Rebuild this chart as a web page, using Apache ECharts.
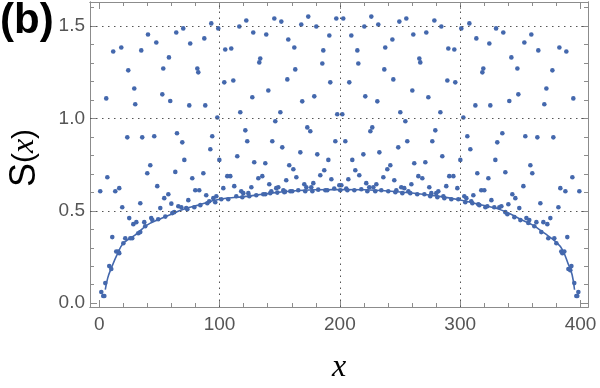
<!DOCTYPE html>
<html lang="en">
<head>
    <meta charset="utf-8">
    <title>S(x)</title>
    <script src="https://cdn.jsdelivr.net/npm/echarts@6/dist/echarts.min.js"></script>
    <style>
        html, body { margin: 0; padding: 0; background: #fff; }
        #main { width: 600px; height: 388px; }
    </style>
</head>
<body>
<div id="main"></div>
<script type="text/javascript">
    // points, [x, S]
    var dotsLeft = [
        [69.8,1.488],[64.0,1.466],[40.5,1.455],[75.6,1.406],[47.4,1.412],[18.3,1.385],[11.6,1.363],[34.9,1.369],
        [57.9,1.331],[53.2,1.271],[24.1,1.261],[29.1,1.163],[52.4,1.131],[5.8,1.109],[59.0,1.095],[29.9,1.077],
        [74.8,1.071],[64.6,0.920],[23.3,0.898],[35.7,0.898],[45.7,0.904],[69.0,0.871],[70.7,0.776],
        [93.1,1.515],[98.9,1.488],[87.3,1.434],[81.5,1.271],[82.3,1.250],[88.1,1.071],[98.1,1.006],[93.9,0.904],
        [92.3,0.834],[99.8,0.776],
        [42.4,0.747],[6.7,0.682],[63.2,0.711],[39.9,0.704],[0.8,0.606],[13.3,0.606],[16.6,0.623],[48.2,0.634],
        [77.3,0.677],[19.1,0.520],[34.1,0.541],[54.0,0.569],[57.4,0.590],[59.9,0.539],[50.7,0.515],[65.7,0.525],
        [68.2,0.520],[74.0,0.558],[72.3,0.515],[24.9,0.461],[28.3,0.428],[30.8,0.439],[37.4,0.439],[43.2,0.461],
        [44.1,0.450],[49.0,0.455],[38.2,0.417],[54.9,0.469],[60.7,0.488],[62.3,0.493],[10.8,0.358],[20.0,0.325],
        [21.6,0.352],[25.8,0.352],[27.4,0.352],[32.4,0.379],[34.1,0.385],[14.1,0.280],[15.8,0.280],[16.6,0.271],
        [8.3,0.201],[10.0,0.185],[5.0,0.109],[1.7,0.061],[3.3,0.039],[4.2,0.039],
        [86.5,0.704],[79.8,0.612],[83.1,0.612],[88.9,0.585],[94.8,0.569],[97.3,0.579],[73.2,0.509],[79.0,0.520],
        [84.0,0.531],[89.8,0.541],[91.4,0.552],[96.4,0.547]
    ];
    var dotsCentre = [
        [122.2,1.531],[145.5,1.542],[151.3,1.525],[116.4,1.498],[128.0,1.466],[138.8,1.455],[157.1,1.428],[104.7,1.374],
        [109.7,1.379],[133.8,1.325],[133.0,1.304],[103.9,1.196],[111.4,1.206],[156.3,1.212],[140.5,1.152],[127.2,1.115],
        [117.2,1.034],[150.5,1.034],[146.3,0.985],[121.4,0.936],[123.0,0.877],[143.8,0.877],[152.1,0.844],[114.7,0.796],
        [173.7,1.552],[197.0,1.542],[202.8,1.542],[226.1,1.552],[167.9,1.509],[180.4,1.498],[220.3,1.498],[231.9,1.509],
        [191.2,1.450],[209.5,1.450],[162.1,1.385],[186.2,1.369],[214.5,1.369],[237.7,1.385],[185.4,1.298],[215.3,1.298],
        [162.9,1.266],[236.9,1.266],[192.0,1.196],[207.8,1.196],[178.7,1.120],[221.1,1.120],[168.7,1.093],[231.1,1.093],
        [197.8,1.023],[202.0,1.023],[172.9,0.952],[175.4,0.931],[226.9,0.952],[225.3,0.931],[196.2,0.877],[204.5,0.877],
        [167.1,0.817],[181.2,0.806],[219.5,0.806],[232.8,0.817],[190.4,0.776],[210.3,0.776],
        [249.4,1.525],[255.2,1.542],[278.5,1.531],[284.3,1.498],[261.0,1.455],[271.8,1.466],[243.6,1.428],[290.1,1.379],
        [295.1,1.374],[266.0,1.325],[266.8,1.304],[244.4,1.212],[289.3,1.206],[295.9,1.196],[260.2,1.152],[273.5,1.115],
        [250.2,1.034],[283.5,1.034],[254.4,0.985],[279.3,0.936],[256.0,0.877],[276.8,0.877],[248.5,0.844],[285.1,0.796],
        [128.8,0.763],[138.0,0.758],[157.9,0.747],[106.4,0.688],[108.9,0.688],[132.2,0.677],[135.5,0.688],[112.2,0.634],
        [103.1,0.623],[126.4,0.628],[141.3,0.644],[155.4,0.666],[118.0,0.606],[119.7,0.596],[123.9,0.596],[147.1,0.623],
        [148.8,0.628],[153.0,0.612],[138.0,0.590],[143.0,0.606],[101.4,0.563],[107.2,0.563],[113.9,0.579],[118.9,0.574],
        [124.7,0.579],[130.5,0.585],[136.3,0.590],[142.1,0.596],[148.0,0.599],[153.8,0.601],
        [161.3,0.725],[163.8,0.682],[187.0,0.720],[183.7,0.693],[192.9,0.671],[170.4,0.644],[172.1,0.628],[176.2,0.628],
        [177.9,0.650],[199.5,0.639],[201.2,0.639],[212.8,0.720],[216.1,0.693],[207.0,0.671],[221.9,0.650],[224.4,0.628],
        [227.8,0.628],[230.3,0.644],[239.4,0.725],[236.1,0.682],[241.9,0.747],[154.4,0.604],[158.8,0.606],[160.4,0.606],
        [165.4,0.612],[171.2,0.606],[177.1,0.606],[182.0,0.615],[187.9,0.612],[189.5,0.612],[195.3,0.621],[200.3,0.612],
        [205.3,0.621],[206.2,0.612],[212.0,0.612],[217.8,0.617],[222.8,0.606],[229.4,0.606],[234.4,0.612],[240.2,0.606],
        [245.2,0.666],[261.8,0.758],[271.0,0.763],[265.2,0.688],[268.5,0.677],[259.4,0.644],[251.0,0.628],[253.5,0.623],
        [274.3,0.628],[290.9,0.688],[294.3,0.688],[288.4,0.634],[297.6,0.623],[246.9,0.612],[246.1,0.601],[251.9,0.596],
        [256.9,0.606],[258.5,0.596],[264.3,0.590],[270.2,0.590],[275.1,0.579],[276.0,0.596],[281.0,0.574],[280.1,0.596],
        [281.8,0.606],[286.0,0.579],[286.8,0.569],[292.6,0.563],[298.4,0.563]
    ];
    var dotsRight = [
        [300.9,1.488],[307.6,1.515],[313.4,1.434],[319.2,1.271],[318.4,1.250],[312.6,1.071],[302.6,1.006],[305.9,0.904],
        [308.4,0.834],[300.1,0.776],
        [329.8,1.488],[335.8,1.466],[359.1,1.455],[324.2,1.406],[353.3,1.412],[364.9,1.369],[382.4,1.385],[388.2,1.363],
        [342.5,1.331],[347.5,1.271],[376.6,1.261],[371.6,1.163],[348.3,1.131],[340.8,1.095],[394.0,1.109],[325.0,1.071],
        [369.9,1.077],[335.0,0.920],[330.8,0.871],[354.1,0.904],[364.1,0.898],[377.4,0.898],[329.2,0.776],
        [314.2,0.704],[323.4,0.677],[317.5,0.612],[320.0,0.612],[310.9,0.585],[303.4,0.579],[305.1,0.569],[304.2,0.547],
        [309.2,0.552],[310.1,0.541],[315.0,0.536],[315.9,0.531],[320.9,0.520],[322.5,0.525],
        [358.3,0.747],[359.9,0.704],[337.5,0.709],[393.2,0.682],[383.2,0.623],[387.4,0.606],[399.0,0.606],[352.5,0.634],
        [343.3,0.590],[345.8,0.569],[325.9,0.558],[340.0,0.536],[349.1,0.515],[366.6,0.541],[381.6,0.520],[328.3,0.520],
        [332.5,0.520],[334.2,0.525],[337.5,0.493],[339.2,0.482],[345.0,0.466],[350.0,0.450],[355.0,0.461],[357.4,0.450],
        [356.6,0.434],[361.6,0.417],[363.3,0.439],[369.1,0.439],[372.4,0.428],[374.9,0.461],[367.4,0.385],[373.2,0.352],
        [378.2,0.352],[379.9,0.325],[384.0,0.280],[384.9,0.271],[386.5,0.280],[389.0,0.358],[389.9,0.185],[391.5,0.179],
        [392.4,0.201],[394.8,0.109],[398.2,0.061],[396.5,0.039],[397.3,0.039]
    ];

    // the solid curve, sampled by eye
    var curveX = [5, 7, 10, 15, 20, 30, 40, 50, 60, 70, 80, 100, 120, 140, 160, 180, 200,
                  220, 240, 260, 280, 300, 320, 330, 340, 350, 360, 370, 380, 385, 390, 393, 395];
    var curveY = [0.073, 0.136, 0.19, 0.266, 0.325, 0.370, 0.424, 0.455, 0.482, 0.509, 0.527, 0.563, 0.577, 0.594, 0.608, 0.614, 0.615,
                  0.614, 0.608, 0.597, 0.581, 0.559, 0.529, 0.514, 0.488, 0.455, 0.424, 0.379, 0.329, 0.289, 0.208, 0.154, 0.073];

    var xMajor = [0, 100, 200, 300, 400];
    var xMinor = [20, 40, 60, 80, 120, 140, 160, 180, 220, 240, 260, 280, 320, 340, 360, 380];
    var yMajor = [0, 0.5, 1.0, 1.5];
    var yMinor = [0.1, 0.2, 0.3, 0.4, 0.6, 0.7, 0.8, 0.9, 1.1, 1.2, 1.3, 1.4, 1.6];
    var gridX = [100, 200, 300];
    var gridY = [0.5, 1.0, 1.5];

    var X_MIN = -7.7, X_MAX = 406.2, Y_MIN = -0.0205, Y_MAX = 1.631;
    var blue = '#4468ad';
    var frame = '#8c8c8c';

    function axis(kind, pos, vals, len, labels) {
        var a = {
            type: 'value',
            position: pos,
            min: kind === 'x' ? X_MIN : Y_MIN,
            max: kind === 'x' ? X_MAX : Y_MAX,
            axisLine: { show: true, onZero: false, lineStyle: { color: frame, width: 1 } },
            axisTick: { show: true, inside: true, length: len, customValues: vals, lineStyle: { color: frame, width: 1 } },
            axisLabel: { show: false },
            splitLine: { show: false }
        };
        if (labels) {
            a.axisLabel = {
                show: true,
                customValues: vals,
                color: '#555',
                fontFamily: 'Liberation Sans',
                fontSize: 19,
                margin: kind === 'x' ? 8 : 5,
                formatter: function (v) { return kind === 'x' ? String(Math.round(v)) : v.toFixed(1); }
            };
        }
        return a;
    }

    var myChart = echarts.init(document.getElementById('main'), null, { renderer: 'canvas' });

    myChart.setOption({
        animation: false,
        grid: { left: 90, right: 12, top: 2, bottom: 81 },
        xAxis: [
            axis('x', 'bottom', xMajor, 7, true),
            axis('x', 'bottom', xMinor, 4, false),
            axis('x', 'top', xMajor, 7, false),
            axis('x', 'top', xMinor, 4, false)
        ],
        yAxis: [
            axis('y', 'left', yMajor, 7, true),
            axis('y', 'left', yMinor, 4, false),
            axis('y', 'right', yMajor, 7, false),
            axis('y', 'right', yMinor, 4, false)
        ],
        graphic: [
            {
                type: 'text', left: 0, top: 0,
                style: { text: '(b)', fontFamily: 'Liberation Sans', fontWeight: 'bold', fontSize: 42, fill: '#000' }
            },
            {
                type: 'text', x: 25, y: 158, rotation: Math.PI / 2,
                style: {
                    text: '{s|S}{p|(}{v|x}{p|)}',
                    align: 'center', verticalAlign: 'middle',
                    rich: {
                        s: { fontFamily: 'Liberation Sans', fontSize: 36, fill: '#000' },
                        p: { fontFamily: 'Liberation Sans', fontSize: 30, fill: '#000' },
                        v: { fontFamily: 'Liberation Serif', fontStyle: 'italic', fontSize: 32, fill: '#000' }
                    }
                }
            },
            {
                type: 'text', x: 339, y: 368,
                style: {
                    text: 'x', align: 'center', verticalAlign: 'middle',
                    fontFamily: 'Liberation Serif', fontStyle: 'italic', fontSize: 32, fill: '#000'
                }
            }
        ],
        series: [
            {
                type: 'line',
                data: curveX.map(function (x, i) { return [x, curveY[i]]; }),
                smooth: 0.4,
                showSymbol: false,
                lineStyle: { color: blue, width: 1.6 },
                z: 2,
                markLine: {
                    silent: true,
                    symbol: ['none', 'none'],
                    label: { show: false },
                    lineStyle: { color: '#555', width: 1, type: [1.5, 4.5] },
                    data: gridX.map(function (v) { return { xAxis: v }; })
                        .concat(gridY.map(function (v) { return { yAxis: v }; }))
                }
            },
            {
                type: 'scatter',
                data: dotsLeft.concat(dotsCentre, dotsRight),
                symbolSize: 4.6,
                itemStyle: { color: blue, opacity: 1 },
                z: 3
            }
        ]
    });
</script>
</body>
</html>
